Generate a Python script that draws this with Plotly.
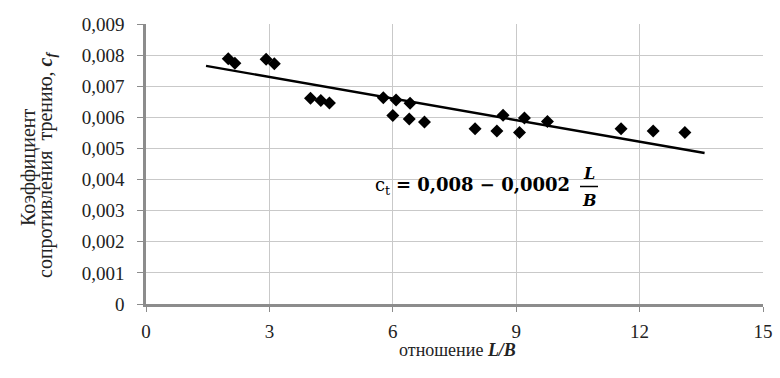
import plotly.graph_objects as go

# data
ratio_lb = [2.00, 2.16, 2.92, 3.12, 4.00, 4.25, 4.46, 5.77, 6.08, 6.42,
            6.00, 6.40, 6.77, 8.00, 8.53, 8.68, 9.08, 9.20, 9.76, 11.55,
            12.33, 13.10]
cf_values = [0.00788, 0.00774, 0.00787, 0.00772, 0.00661, 0.00654, 0.00646,
             0.00663, 0.00656, 0.00645, 0.00606, 0.00595, 0.00585, 0.00563,
             0.00556, 0.00607, 0.00551, 0.00598, 0.00587, 0.00563, 0.00556,
             0.00551]

trend_intercept = 0.00799
trend_slope = -0.000231
trend_x = [1.46, 13.58]
trend_y = [trend_intercept + trend_slope * v for v in trend_x]

x_ticks = [0, 3, 6, 9, 12, 15]
x_tick_labels = ["0", "3", "6", "9", "12", "15"]
y_ticks = [0, 0.001, 0.002, 0.003, 0.004, 0.005, 0.006, 0.007, 0.008, 0.009]
y_tick_labels = ["0", "0,001", "0,002", "0,003", "0,004", "0,005", "0,006",
                 "0,007", "0,008", "0,009"]

FONT = "Liberation Serif"
AXIS_COL = "#8c8c8c"
GRID_COL = "#c9c9c9"

L, R, T, B = 146, 17, 24, 74
PW, PH = 780 - L - R, 378 - T - B


def px(x):
    return (x - L) / PW


def py(y):
    return (378 - B - y) / PH


fig = go.Figure()
fig.add_trace(go.Scatter(
    x=trend_x, y=trend_y, mode="lines",
    line=dict(color="black", width=2.4), showlegend=False, hoverinfo="skip"))
fig.add_trace(go.Scatter(
    x=ratio_lb, y=cf_values, mode="markers",
    marker=dict(symbol="diamond", size=10, color="black"),
    showlegend=False))

fig.update_layout(
    width=780, height=378,
    margin=dict(l=L, r=R, t=T, b=B, autoexpand=False),
    paper_bgcolor="white", plot_bgcolor="white",
    font=dict(family=FONT, size=16, color="#222"),
    xaxis=dict(
        range=[0, 15], tickvals=x_ticks, ticktext=x_tick_labels,
        showgrid=True, gridcolor=GRID_COL, gridwidth=1,
        showline=True, linecolor=AXIS_COL, linewidth=2.5,
        ticks="outside", ticklen=5, tickcolor=AXIS_COL,
        zeroline=False, tickfont=dict(family=FONT, size=19),
        ticklabelstandoff=3,
        automargin=False,
    ),
    yaxis=dict(
        range=[0, 0.009], tickvals=y_ticks, ticktext=y_tick_labels,
        showgrid=True, gridcolor=GRID_COL, gridwidth=1,
        showline=True, linecolor=AXIS_COL, linewidth=2.5,
        ticks="outside", ticklen=6, tickcolor=AXIS_COL,
        zeroline=False, tickfont=dict(family=FONT, size=19),
        ticklabelstandoff=9,
        automargin=False,
    ),
)

# axis titles
fig.add_annotation(
    xref="paper", yref="paper", x=px(457), y=py(350),
    xanchor="center", yanchor="middle", showarrow=False,
    text="отношение <b><i>L/B</i></b>",
    font=dict(family=FONT, size=18, color="#222"))
fig.add_annotation(
    xref="paper", yref="paper", x=px(28), y=py(167),
    xanchor="center", yanchor="middle", showarrow=False, textangle=-90,
    text="Коэффициент",
    font=dict(family=FONT, size=20, color="#222"))
fig.add_annotation(
    xref="paper", yref="paper", x=px(46), y=py(165),
    xanchor="center", yanchor="middle", showarrow=False, textangle=-90,
    text="сопротивления  трению, <b><i>c<sub>f</sub></i></b>",
    font=dict(family=FONT, size=20, color="#222"))

# equation annotation
fig.add_annotation(
    xref="paper", yref="paper", x=px(373), y=py(186),
    xanchor="left", yanchor="middle", showarrow=False,
    text="c<sub>t</sub> <b>= 0,008 − 0,0002</b>",
    font=dict(family="DejaVu Serif", size=18, color="black"))
fig.add_annotation(
    xref="paper", yref="paper", x=px(589), y=py(173),
    xanchor="center", yanchor="middle", showarrow=False,
    text="<b><i>L</i></b>",
    font=dict(family="DejaVu Serif", size=16, color="black"))
fig.add_annotation(
    xref="paper", yref="paper", x=px(589), y=py(200),
    xanchor="center", yanchor="middle", showarrow=False,
    text="<b><i>B</i></b>",
    font=dict(family="DejaVu Serif", size=16, color="black"))
fig.add_shape(
    type="line", xref="paper", yref="paper",
    x0=px(580), x1=px(598), y0=py(186.5), y1=py(186.5),
    line=dict(color="black", width=1.5))

fig.write_html("out.html",
               config={"displayModeBar": False},
               post_script="document.body.style.margin='0';"
                           "document.body.style.overflow='hidden';")
